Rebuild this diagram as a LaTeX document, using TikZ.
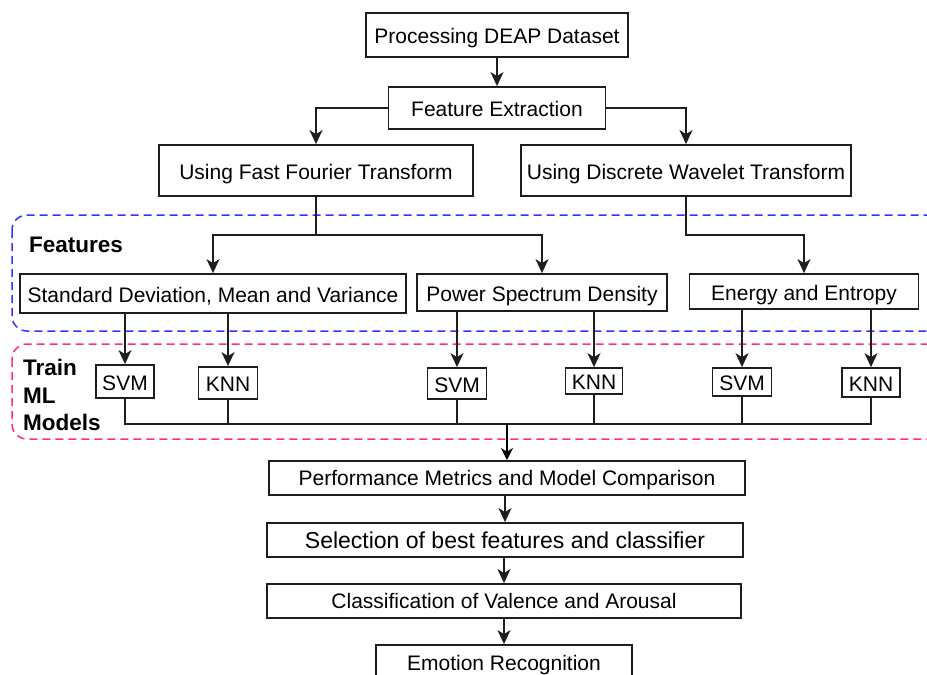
\documentclass[tikz,border=0pt]{standalone}
\usepackage{fontspec}
\setmainfont{Liberation Sans}
\usetikzlibrary{arrows.meta}
\definecolor{linec}{HTML}{1E1E1E}
\definecolor{grpblue}{HTML}{3333FF}
\definecolor{grpred}{HTML}{FF3366}
\begin{document}
\begin{tikzpicture}[x=1pt,y=-1pt,
  box/.style={draw=linec, line width=1.8pt, inner sep=0pt, text height=17pt, text depth=0pt, font=\fontsize{21}{24}\selectfont, text=black},
  lowbox/.style={box, text height=15pt},
  conn/.style={draw=linec, line width=1.8pt, -{Stealth[length=14pt,width=13pt,inset=4pt]}},
  thickconn/.style={draw=black, line width=2.6pt, -{Stealth[length=12pt,width=12pt,inset=3.5pt]}},
  plain/.style={draw=linec, line width=1.8pt},
  grp/.style={dash pattern=on 8pt off 5pt, line width=1.5pt, rounded corners=15pt},
  lbl/.style={font=\bfseries\fontsize{22.5}{27}\selectfont, inner sep=0pt}
]
\useasboundingbox (0,0) rectangle (927,675);
\clip (0,0) rectangle (927,675);

% group frames
\draw[grp, draw=grpblue] (12,215) rectangle (945,331);
\draw[grp, draw=grpred] (12,344) rectangle (945,439);

\node[lbl, anchor=west] (featlbl) at (29,245) {Features};
\node[lbl, anchor=north west, align=left, font=\bfseries\fontsize{22.5}{27.5}\selectfont] (trainlbl) at (23,359) {Train\\ML\\Models};

% top chain
\node[box, minimum width=262pt, minimum height=44pt] (pdd) at (497,35) {Processing DEAP Dataset};
\node[box, minimum width=217pt, minimum height=42pt] (fe) at (497,108) {Feature Extraction};
\node[box, minimum width=314pt, minimum height=51pt] (fft) at (316,170.5) {Using Fast Fourier Transform};
\node[box, minimum width=330pt, minimum height=51pt] (dwt) at (686,170.5) {Using Discrete Wavelet Transform};

% features
\node[box, minimum width=386pt, minimum height=39pt] (sd) at (213,293.5) {Standard Deviation, Mean and Variance};
\node[box, minimum width=250pt, minimum height=37pt] (psd) at (542,292.5) {Power Spectrum Density};
\node[box, minimum width=229pt, minimum height=35pt] (ee) at (804,291.5) {Energy and Entropy};

% models
\node[box, minimum width=58pt, minimum height=33pt] (svm1) at (125,381.5) {SVM};
\node[box, minimum width=59pt, minimum height=32pt] (knn1) at (228,383) {KNN};
\node[box, minimum width=59pt, minimum height=31pt] (svm2) at (457,383.5) {SVM};
\node[box, minimum width=57pt, minimum height=26pt] (knn2) at (594,381) {KNN};
\node[box, minimum width=59pt, minimum height=28pt] (svm3) at (742,382) {SVM};
\node[box, minimum width=58pt, minimum height=29pt] (knn3) at (871,382.5) {KNN};

% bottom chain
\node[lowbox, minimum width=476pt, minimum height=34pt] (pmmc) at (507,478) {Performance Metrics and Model Comparison};
\node[lowbox, minimum width=476pt, minimum height=34pt, font=\fontsize{23}{26}\selectfont, text height=16.5pt] (sel) at (505,540) {Selection of best features and classifier};
\node[lowbox, minimum width=474pt, minimum height=34pt] (cva) at (504,601) {Classification of Valence and Arousal};
\node[lowbox, minimum width=256pt, minimum height=36pt] (er) at (504,663) {Emotion Recognition};

% connectors top
\draw[conn] (pdd) -- (fe);
\draw[conn] (fe.west) -| (fft.north);
\draw[conn] (fe.east) -| (dwt.north);

\coordinate (j1) at (316,235);
\coordinate (j2) at (686,235);
\draw[plain] (fft.south) -- (j1);
\draw[conn] (j1) -| (sd.north);
\draw[conn] (j1) -| (psd.north);
\draw[conn] (dwt.south) -- (j2) -| (ee.north);

% features to models
\draw[conn] (sd.south -| svm1.north) -- (svm1.north);
\draw[conn] (sd.south -| knn1.north) -- (knn1.north);
\draw[conn] (psd.south -| svm2.north) -- (svm2.north);
\draw[conn] (psd.south -| knn2.north) -- (knn2.north);
\draw[conn] (ee.south -| svm3.north) -- (svm3.north);
\draw[conn] (ee.south -| knn3.north) -- (knn3.north);

% models to collector
\coordinate (c1) at (125,424);
\coordinate (c6) at (871,424);
\coordinate (cm) at (507,424);
\draw[plain] (svm1.south) -- (c1) -- (c6) -- (knn3.south);
\draw[plain] (knn1.south) -- (knn1.south |- c1);
\draw[plain] (svm2.south) -- (svm2.south |- c1);
\draw[plain] (knn2.south) -- (knn2.south |- c1);
\draw[plain] (svm3.south) -- (svm3.south |- c1);
\draw[thickconn] (cm) -- (pmmc.north);

% bottom chain connectors
\draw[conn] (pmmc.south -| sel.north) -- (sel.north);
\draw[conn] (sel.south -| cva.north) -- (cva.north);
\draw[conn] (cva.south) -- (er.north);
\end{tikzpicture}
\end{document}
